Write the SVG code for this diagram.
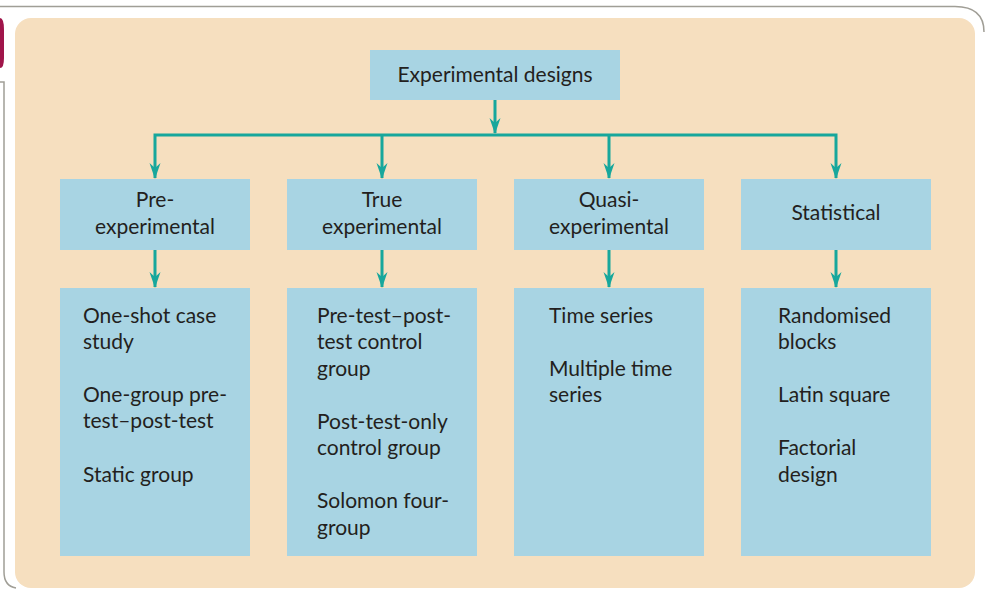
<svg xmlns="http://www.w3.org/2000/svg" width="985" height="589" viewBox="0 0 985 589">
<defs>
<style>
.bg{fill:#F6DFBF}
.box{fill:#A8D4E3}
.ln{stroke:#17A79C;stroke-width:3;fill:none}
.ah{fill:#17A79C}
.t{font-family:Lato,"Liberation Sans",sans-serif;font-size:21px;fill:#231F20}
.c{text-anchor:middle}
.frame{stroke:#A09E96;stroke-width:1.5;fill:none}
</style>
<path id="arr" class="ah" d="M0,0 L-5.5,-16 L0,-11 L5.5,-16 Z"/>
</defs>
<rect width="985" height="589" fill="#ffffff"/>
<path class="frame" d="M0,6.5 H955 Q984,6.5 984,32"/>
<path class="frame" d="M0,82 H4 V572 Q4,586 16,588"/>
<path d="M0,18 H0 Q4,18 4,30 V58 Q4,68 0,68 Z" fill="#A0154A"/>
<rect class="bg" x="15" y="18" width="960" height="570" rx="16"/>
<g id="connectors">
<path class="ln" d="M495,100 V133"/>
<use href="#arr" x="495" y="134"/>
<path class="ln" d="M155,178 V135 H836 V178 M382,135 V178 M609,135 V178"/>
<use href="#arr" x="155" y="179"/>
<use href="#arr" x="382" y="179"/>
<use href="#arr" x="609" y="179"/>
<use href="#arr" x="836" y="179"/>
<path class="ln" d="M155,250 V287 M382,250 V287 M609,250 V287 M836,250 V287"/>
<use href="#arr" x="155" y="288"/>
<use href="#arr" x="382" y="288"/>
<use href="#arr" x="609" y="288"/>
<use href="#arr" x="836" y="288"/>
</g>
<g id="root">
<rect class="box" x="370" y="50" width="250" height="50"/>
<text class="t c" x="495" y="82">Experimental designs</text>
</g>
<g id="pre">
<rect class="box" x="60" y="179" width="190" height="71"/>
<text class="t c" x="155" y="207">Pre-</text>
<text class="t c" x="155" y="234">experimental</text>
</g>
<g id="true">
<rect class="box" x="287" y="179" width="190" height="71"/>
<text class="t c" x="382" y="207">True</text>
<text class="t c" x="382" y="234">experimental</text>
</g>
<g id="quasi">
<rect class="box" x="514" y="179" width="190" height="71"/>
<text class="t c" x="609" y="207">Quasi-</text>
<text class="t c" x="609" y="234">experimental</text>
</g>
<g id="stat">
<rect class="box" x="741" y="179" width="190" height="71"/>
<text class="t c" x="836" y="220">Statistical</text>
</g>
<g id="pre-list">
<rect class="box" x="60" y="288" width="190" height="268"/>
<text class="t" x="83" y="323">One-shot case</text>
<text class="t" x="83" y="349">study</text>
<text class="t" x="83" y="402">One-group pre-</text>
<text class="t" x="83" y="428">test–post-test</text>
<text class="t" x="83" y="482">Static group</text>
</g>
<g id="true-list">
<rect class="box" x="287" y="288" width="190" height="268"/>
<text class="t" x="317" y="323">Pre-test–post-</text>
<text class="t" x="317" y="349">test control</text>
<text class="t" x="317" y="376">group</text>
<text class="t" x="317" y="429">Post-test-only</text>
<text class="t" x="317" y="455">control group</text>
<text class="t" x="317" y="508">Solomon four-</text>
<text class="t" x="317" y="535">group</text>
</g>
<g id="quasi-list">
<rect class="box" x="514" y="288" width="190" height="268"/>
<text class="t" x="549" y="323">Time series</text>
<text class="t" x="549" y="376">Multiple time</text>
<text class="t" x="549" y="402">series</text>
</g>
<g id="stat-list">
<rect class="box" x="741" y="288" width="190" height="268"/>
<text class="t" x="778" y="323">Randomised</text>
<text class="t" x="778" y="349">blocks</text>
<text class="t" x="778" y="402">Latin square</text>
<text class="t" x="778" y="455">Factorial</text>
<text class="t" x="778" y="482">design</text>
</g>
</svg>
